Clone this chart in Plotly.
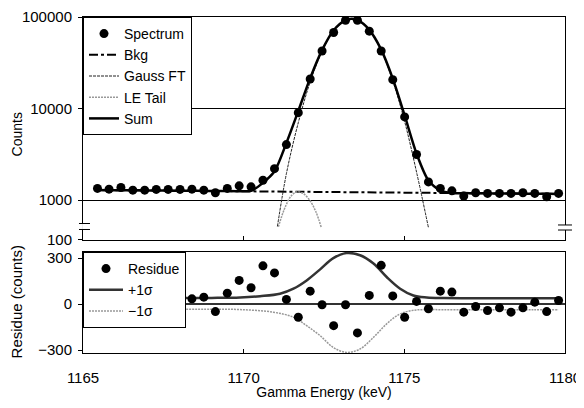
import plotly.graph_objects as go

# ---------------- data ----------------
energy = [1165.45, 1165.81, 1166.18, 1166.55, 1166.92, 1167.28, 1167.65, 1168.02,
          1168.39, 1168.76, 1169.12, 1169.49, 1169.86, 1170.23, 1170.60, 1170.96,
          1171.33, 1171.70, 1172.07, 1172.44, 1172.80, 1173.17, 1173.54, 1173.91,
          1174.28, 1174.64, 1175.01, 1175.38, 1175.75, 1176.12, 1176.48, 1176.85,
          1177.22, 1177.59, 1177.96, 1178.32, 1178.69, 1179.06, 1179.43, 1179.80]

spectrum = [1338, 1315, 1372, 1282, 1282, 1305, 1305, 1305, 1315, 1282,
            1199, 1338, 1428, 1392, 1645, 2202, 4030, 9010, 20990, 42560,
            67640, 92100, 92100, 70000, 42560, 20680, 8090, 3142, 1577, 1338,
            1260, 1104, 1199, 1181, 1181, 1181, 1199, 1181, 1085, 1181]

bkg_energy = [1165.45, 1179.80]
bkg_counts = [1285, 1165]

gauss_energy = [1171.05, 1171.33, 1171.70, 1172.07, 1172.44, 1172.80, 1173.17, 1173.36,
                1173.54, 1173.91, 1174.28, 1174.64, 1175.01, 1175.38, 1175.75]
gauss_counts = [514, 1940, 7000, 19500, 42100, 70500, 91400, 94500,
                91700, 71200, 42900, 20000, 7200, 2020, 500]

tail_energy = [1171.08, 1171.30, 1171.50, 1171.68, 1171.85, 1172.05, 1172.25, 1172.42]
tail_counts = [510, 850, 1130, 1230, 1180, 1000, 740, 495]

sum_energy = [1165.45, 1165.81, 1166.18, 1166.55, 1166.92, 1167.28, 1167.65, 1168.02,
              1168.39, 1168.76, 1169.12, 1169.49, 1169.86, 1170.23, 1170.60, 1170.96,
              1171.33, 1171.70, 1172.07, 1172.44, 1172.80, 1173.17, 1173.36, 1173.54,
              1173.91, 1174.28, 1174.64, 1175.01, 1175.38, 1175.75, 1176.12, 1176.48,
              1176.85, 1177.22, 1177.59, 1177.96, 1178.32, 1178.69, 1179.06, 1179.43,
              1179.80]
sum_counts = [1285, 1282, 1279, 1276, 1273, 1270, 1267, 1263, 1260, 1257,
              1254, 1251, 1250, 1258, 1540, 2060, 4200, 9400, 21500, 43500,
              71700, 92500, 95700, 92800, 72400, 44000, 21200, 8400, 3220, 1640,
              1270, 1193, 1190, 1186, 1183, 1180, 1177, 1174, 1171, 1168, 1165]

residue_energy = energy[7:]
residue = [35, 35, 46, -48, 72, 155, 107, 250, 204, 31,
           -85, 85, -4, -140, -4, -187, 57, 253, 54, -85,
           18, -30, 85, 79, -52, -15, -41, -24, -52, -24,
           13, -48, 24]

sig_plus_energy = [1168.02, 1169.00, 1169.89, 1170.51, 1171.13, 1171.55, 1171.96, 1172.38,
                   1172.79, 1173.20, 1173.62, 1174.04, 1174.45, 1174.87, 1175.28, 1175.70,
                   1176.20, 1177.00, 1178.00, 1179.00, 1179.80]
sig_plus = [40, 41, 44, 52, 68, 101, 155, 227, 300, 333, 319, 265, 177, 101, 57, 44,
            40, 39, 39, 39, 39]

sig_minus_energy = [1168.02, 1169.00, 1169.89, 1170.92, 1171.55, 1171.96, 1172.38, 1172.79,
                    1173.20, 1173.62, 1174.04, 1174.45, 1174.87, 1175.28, 1175.70, 1176.20,
                    1177.00, 1178.00, 1179.00, 1179.80]
sig_minus = [-33, -33, -35, -52, -85, -140, -205, -282, -314, -292, -216, -128, -63,
             -40, -35, -36, -36, -36, -36, -36]

x_ticks = [1165, 1170, 1175, 1180]
count_tick_vals = [368, 1000, 10000, 100000]
count_tick_text = ["100", "1000", "10000", "100000"]
res_ticks = [-300, 0, 300]

FONT = "Liberation Sans, Arial, sans-serif"

fig = go.Figure()

# ---------------- top panel ----------------
fig.add_trace(go.Scatter(x=bkg_energy, y=bkg_counts, mode="lines", name="Bkg",
                         line=dict(color="black", width=2, dash="9px,3px,3px,3px"),
                         xaxis="x", yaxis="y", legend="legend", legendrank=2))
fig.add_trace(go.Scatter(x=gauss_energy, y=gauss_counts, mode="lines", name="Gauss FT",
                         line=dict(color="#222", width=1, dash="3px,1px", shape="spline"),
                         xaxis="x", yaxis="y", legend="legend", legendrank=3))
fig.add_trace(go.Scatter(x=tail_energy, y=tail_counts, mode="lines", name="LE Tail",
                         line=dict(color="#999", width=1.5, dash="2px,1px", shape="spline"),
                         xaxis="x", yaxis="y", legend="legend", legendrank=4))
fig.add_trace(go.Scatter(x=sum_energy, y=sum_counts, mode="lines", name="Sum",
                         line=dict(color="black", width=2.5, shape="spline", smoothing=0.8),
                         xaxis="x", yaxis="y", legend="legend", legendrank=5))
fig.add_trace(go.Scatter(x=energy, y=spectrum, mode="markers", name="Spectrum",
                         marker=dict(color="black", size=9, symbol="circle"),
                         xaxis="x", yaxis="y", legend="legend", legendrank=1))

# ---------------- bottom panel ----------------
fig.add_trace(go.Scatter(x=sig_plus_energy, y=sig_plus, mode="lines", name="+1σ",
                         line=dict(color="#333", width=2.5, shape="spline"),
                         xaxis="x2", yaxis="y2", legend="legend2", legendrank=2))
fig.add_trace(go.Scatter(x=sig_minus_energy, y=sig_minus, mode="lines", name="−1σ",
                         line=dict(color="#999", width=1.5, dash="2px,1px", shape="spline"),
                         xaxis="x2", yaxis="y2", legend="legend2", legendrank=3))
fig.add_trace(go.Scatter(x=residue_energy, y=residue, mode="markers", name="Residue",
                         marker=dict(color="black", size=9, symbol="circle"),
                         xaxis="x2", yaxis="y2", legend="legend2", legendrank=1))

axis_common = dict(showline=True, linecolor="black", linewidth=1, mirror=True,
                   tickfont=dict(family=FONT, size=15, color="black"),
                   ticks="outside", ticklen=4, tickcolor="black", automargin=False)

legend_common = dict(xanchor="left", yanchor="top", x=0,
                     bgcolor="white", bordercolor="black", borderwidth=1,
                     font=dict(family=FONT, size=14, color="black"),
                     tracegroupgap=0)

# axis-break marks (paper coordinates)
shapes = []
for (xa, xb, ya, yb) in [(-0.0083, 0.0145, 0.3854, 0.3676), (0.9855, 1.0145, 0.3810, 0.3660)]:
    xm = (xa + xb) / 2
    shapes.append(dict(type="rect", xref="paper", yref="paper", x0=xm - 0.005, x1=xm + 0.005,
                       y0=yb, y1=ya, fillcolor="white", line=dict(width=0), layer="above"))
    shapes.append(dict(type="line", xref="paper", yref="paper", x0=xa, x1=xb, y0=ya, y1=ya,
                       line=dict(color="black", width=1), layer="above"))
    shapes.append(dict(type="line", xref="paper", yref="paper", x0=xa, x1=xb, y0=yb, y1=yb,
                       line=dict(color="black", width=1), layer="above"))

# The page body has an 8px default margin; the figure is sized/offset for it
fig.update_layout(
    template="none",
    width=576, height=392,
    margin=dict(l=75, r=19, t=9, b=47, autoexpand=False),
    paper_bgcolor="white", plot_bgcolor="white",
    font=dict(family=FONT, size=14, color="black"),
    showlegend=True,
    xaxis=dict(domain=[0, 1], range=[1165, 1180], anchor="y", tickvals=x_ticks,
               showticklabels=False, showgrid=False, zeroline=False,
               showline=True, linecolor="black", linewidth=1, mirror=True,
               ticks="inside", ticklen=4, tickcolor="black", automargin=False),
    yaxis=dict(domain=[0.3363, 1], type="log", range=[2.563, 5.0], anchor="x",
               tickvals=count_tick_vals, ticktext=count_tick_text,
               showgrid=True, gridcolor="black", gridwidth=1, zeroline=False,
               ticklabelstandoff=3, ticklabeloverflow="allow", **axis_common),
    xaxis2=dict(domain=[0, 1], range=[1165, 1180], anchor="y2", tickvals=x_ticks,
                showgrid=False, zeroline=False,
                showline=True, linecolor="black", linewidth=1, mirror=True,
                ticks="inside", ticklen=4, tickcolor="black", automargin=False,
                tickfont=dict(family=FONT, size=15, color="black"),
                ticklabelstandoff=11, ticklabeloverflow="allow",
                title=dict(text="Gamma Energy (keV)", standoff=8,
                           font=dict(family=FONT, size=14, color="black"))),
    yaxis2=dict(domain=[0, 0.3006], range=[-318, 340], anchor="x2",
                tickvals=res_ticks, showgrid=False,
                zeroline=True, zerolinecolor="#333", zerolinewidth=2,
                ticklabelstandoff=3, ticklabeloverflow="allow", **axis_common),
    legend=dict(y=1, itemwidth=30, **legend_common),
    legend2=dict(y=0.3006, itemwidth=34, **legend_common),
    shapes=shapes,
    annotations=[
        dict(text="Counts", xref="paper", yref="paper", x=-0.138, y=0.652,
             textangle=-90, showarrow=False, xanchor="center", yanchor="middle",
             font=dict(family=FONT, size=14, color="black")),
        dict(text="Residue (counts)", xref="paper", yref="paper", x=-0.138, y=0.152,
             textangle=-90, showarrow=False, xanchor="center", yanchor="middle",
             font=dict(family=FONT, size=15, color="black")),
    ],
)

fig.write_html("out.html")
